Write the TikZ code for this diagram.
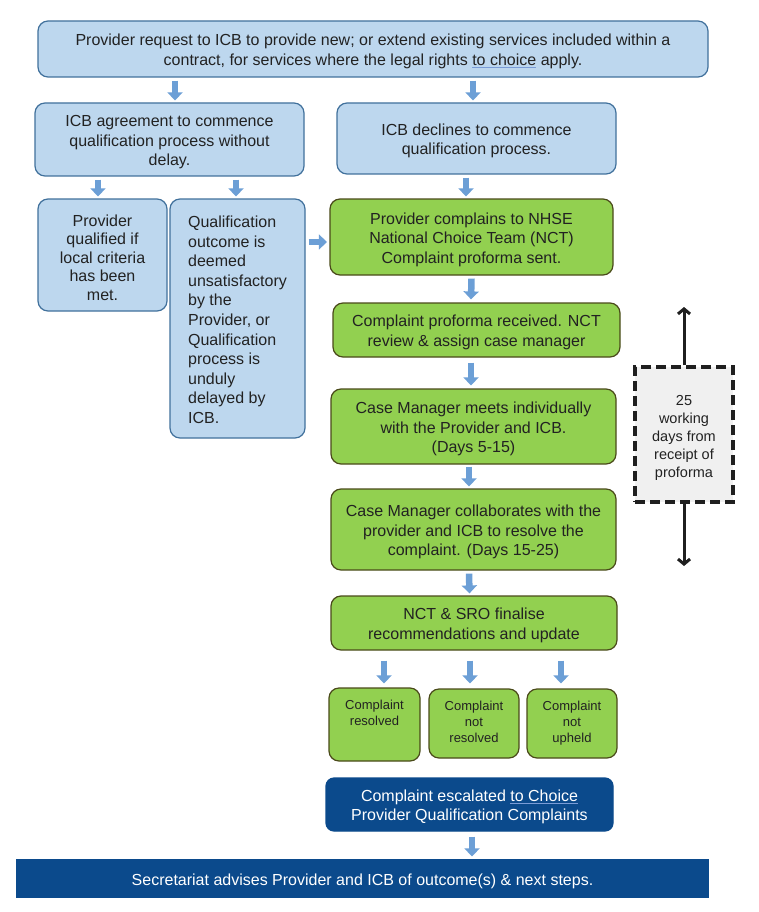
\documentclass[tikz,border=0pt]{standalone}
\usepackage{fontspec}
\setmainfont{Liberation Sans}
\usetikzlibrary{arrows.meta}
\definecolor{lbfill}{HTML}{BDD7EE}
\definecolor{lbdraw}{HTML}{41719C}
\definecolor{grfill}{HTML}{92D050}
\definecolor{grdraw}{HTML}{4A4A1A}
\definecolor{dkblue}{HTML}{0B4A8C}
\definecolor{barrow}{HTML}{6C9FD6}
\definecolor{ulc}{HTML}{7A9CD6}
\definecolor{txt}{HTML}{222222}
\newcommand\squig[1]{{\color{ulc}\underline{\color{txt}#1}}}
\newcommand\squigw[1]{{\color{ulc}\underline{\color{white}#1}}}
\newcommand\sk{\rule{0pt}{16.5pt}}
\begin{document}
\begin{tikzpicture}[x=1pt,y=-1pt,
  base/.style={rectangle, rounded corners=10pt, line width=1.2pt, align=center, inner sep=0pt,
    font=\fontsize{16}{19.5}\selectfont},
  lbbox/.style={base, fill=lbfill, draw=lbdraw, text=txt},
  grbox/.style={base, fill=grfill, draw=grdraw, text=txt},
  smbox/.style={grbox, font=\fontsize{13}{16}\selectfont},
  dkbox/.style={base, fill=dkblue, draw=dkblue, text=white},
  dashbox/.style={rectangle, inner sep=0pt, fill=black!6, draw=black!88, line width=3.5pt,
    dash pattern=on 10pt off 5pt, align=center, font=\fontsize{14.5}{18}\selectfont, text=txt},
  barr/.style={draw=barrow, line width=6.5pt, -{Triangle[width=15pt,length=8pt]}},
  blkarr/.style={draw=black!88, line width=3pt, -{Straight Barb[length=5pt,width=12pt]}}
]
\useasboundingbox (0,0) rectangle (758,912);
\fill[white] (0,0) rectangle (758,912);

\node[lbbox, minimum width=670, minimum height=56] (top) at (373,49)
  {\sk Provider request to ICB to provide new; or extend existing services included within a\\
   contract, for services where the legal rights \squig{to choice} apply.};
\node[lbbox, minimum width=269, minimum height=73] (agr) at (169.5,139.5)
  {\sk ICB agreement to commence\\qualification process without\\delay.};
\node[lbbox, minimum width=279, minimum height=71] (dec) at (476.5,138.5)
  {\sk ICB declines to commence\\qualification process.};
\node[lbbox, minimum width=129, minimum height=112, font=\fontsize{16}{18.5}\selectfont] (pq) at (102.5,255)
  {\sk Provider\\qualified if\\local criteria\\has been\\met.};
\node[lbbox, minimum width=135, minimum height=239, align=left, font=\fontsize{16}{19.6}\selectfont] (qual) at (237.5,318.5)
  {\rule{0pt}{14pt}Qualification\\outcome is\\deemed\\unsatisfactory\\by the\\Provider, or\\Qualification\\process is\\unduly\\delayed by\\ICB.};

\node[grbox, minimum width=283, minimum height=76] (comp) at (471.5,237)
  {\sk Provider complains to NHSE\\National Choice Team (NCT)\\Complaint proforma sent.};
\node[grbox, minimum width=287, minimum height=54] (prof) at (476.5,330)
  {\sk Complaint proforma received. NCT\\review \& assign case manager};
\node[grbox, minimum width=285, minimum height=75] (cm1) at (473.5,426.5)
  {\sk Case Manager meets individually\\with the Provider and ICB.\\(Days 5-15)};
\node[grbox, minimum width=285, minimum height=81] (cm2) at (473.5,529.5)
  {\sk Case Manager collaborates with the\\provider and ICB to resolve the\\complaint. (Days 15-25)};
\node[grbox, minimum width=286, minimum height=54] (nct) at (474,623)
  {\sk NCT \& SRO finalise\\recommendations and update};

\node[smbox, minimum width=91, minimum height=73] (r1) at (374.5,724.5)
  {\parbox[c][73pt][t]{88pt}{\centering\vspace*{12pt}Complaint\\resolved}};
\node[smbox, minimum width=90, minimum height=69] (r2) at (474,723.5)
  {\parbox[c][69pt][t]{88pt}{\centering\vspace*{12pt}Complaint\\not\\resolved}};
\node[smbox, minimum width=90, minimum height=69] (r3) at (572,723.5)
  {\parbox[c][69pt][t]{88pt}{\centering\vspace*{12pt}Complaint\\not\\upheld}};

\node[dkbox, rounded corners=8pt, minimum width=287, minimum height=53] (esc) at (469.5,804.5)
  {\sk Complaint escalated \squigw{to Choice}\\Provider Qualification Complaints};
\node[dkbox, rounded corners=0pt, minimum width=691, minimum height=37] (sec) at (362.5,878.5)
  {\sk Secretariat advises Provider and ICB of outcome(s) \& next steps.};

\node[dashbox, minimum width=98, minimum height=135] (dash) at (684,434.5)
  {\sk 25\\working\\days from\\receipt of\\proforma};
\coordinate (uptip) at (684,307);
\coordinate (dntip) at (684,566);
\draw[blkarr] (dash.north) -- (uptip);
\draw[blkarr] (dash.south) -- (dntip);

% block arrows
\draw[barr] ([xshift=5.5pt,yshift=-3pt]top.south -| agr.north) -- ([xshift=5.5pt,yshift=2pt]agr.north);
\draw[barr] ([xshift=-3.5pt,yshift=-3pt]top.south -| dec.north) -- ([xshift=-3.5pt,yshift=2pt]dec.north);
\draw[barr] ([xshift=-4.5pt,yshift=-3pt]agr.south -| pq.north) -- ([xshift=-4.5pt,yshift=2pt]pq.north);
\draw[barr] ([xshift=-1.5pt,yshift=-3pt]agr.south -| qual.north) -- ([xshift=-1.5pt,yshift=2pt]qual.north);
\draw[barr] ([xshift=-5.5pt,yshift=-3pt]dec.south -| comp.north) -- ([xshift=-5.5pt,yshift=2pt]comp.north);
\draw[barr] ([xshift=3pt,yshift=-5pt]qual.east |- comp.west) -- ([xshift=-2.5pt,yshift=-5pt]comp.west);
\draw[barr] ([yshift=-3pt]comp.south) -- ([xshift=-5.5pt,yshift=3pt]prof.north);
\draw[barr] ([xshift=-5.5pt,yshift=-5pt]prof.south) -- ([xshift=-2.5pt,yshift=3pt]cm1.north);
\draw[barr] ([xshift=-4.5pt,yshift=-2pt]cm1.south) -- ([xshift=-4.5pt,yshift=2pt]cm2.north);
\draw[barr] ([xshift=-4.5pt,yshift=-3pt]cm2.south) -- ([xshift=-4.5pt,yshift=2pt]nct.north);
\draw[barr] ([xshift=9.5pt,yshift=-10pt]nct.south -| r1.north) -- ([xshift=9.5pt,yshift=4pt]r1.north);
\draw[barr] ([xshift=-4pt,yshift=-10pt]nct.south -| r2.north) -- ([xshift=-4pt,yshift=5pt]r2.north);
\draw[barr] ([xshift=-11pt,yshift=-10pt]nct.south -| r3.north) -- ([xshift=-11pt,yshift=5pt]r3.north);
\draw[barr] ([xshift=2.5pt,yshift=-5pt]esc.south) -- ([xshift=2.5pt,yshift=3pt]esc.south |- sec.north);
\end{tikzpicture}
\end{document}
